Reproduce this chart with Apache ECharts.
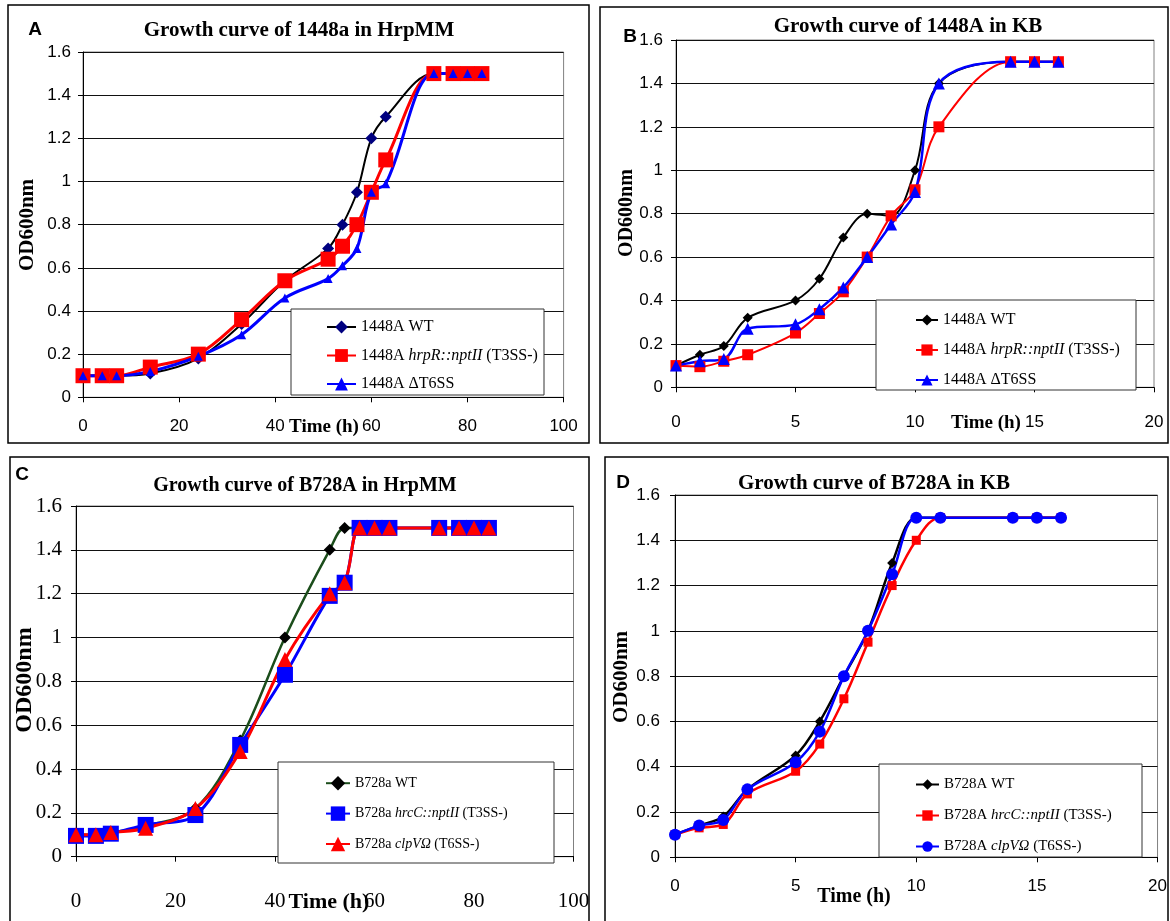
<!DOCTYPE html>
<html><head><meta charset="utf-8">
<script src="https://cdn.jsdelivr.net/npm/echarts@6/dist/echarts.min.js"></script>
<style>html,body{margin:0;padding:0;background:#fff}#c{width:1170px;height:921px}</style>
</head><body><div id="c"></div>
<script>
// ---------- data ----------
const hoursA = [0,4,7,14,24,33,42,51,54,57,60,63,73,77,80,83];
const odA_WT   = [0.10,0.10,0.10,0.11,0.18,0.34,0.54,0.69,0.80,0.95,1.20,1.30,1.50,1.50,1.50,1.50];
const odA_hrpR = [0.10,0.10,0.10,0.14,0.20,0.36,0.54,0.64,0.70,0.80,0.95,1.10,1.50,1.50,1.50,1.50];
const odA_T6SS = [0.10,0.10,0.10,0.12,0.19,0.29,0.46,0.55,0.61,0.69,0.95,0.99,1.50,1.50,1.50,1.50];

const hoursB = [0,1,2,3,5,6,7,8,9,10,11,14,15,16];
const odB_WT   = [0.10,0.15,0.19,0.32,0.40,0.50,0.69,0.80,0.79,1.00,1.40,1.50,1.50,1.50];
const odB_hrpR = [0.10,0.095,0.12,0.15,0.25,0.34,0.44,0.60,0.79,0.91,1.20,1.50,1.50,1.50];
const odB_T6SS = [0.10,0.12,0.13,0.27,0.29,0.36,0.46,0.60,0.75,0.90,1.40,1.50,1.50,1.50];

const hoursC = [0,4,7,14,24,33,42,51,54,57,60,63,73,77,80,83];
const odC_WT   = [0.10,0.10,0.11,0.14,0.22,0.53,1.00,1.40,1.50,1.50,1.50,1.50,1.50,1.50,1.50,1.50];
const odC_hrcC = [0.095,0.095,0.105,0.145,0.19,0.51,0.83,1.19,1.25,1.50,1.50,1.50,1.50,1.50,1.50,1.50];
const odC_clpV = [0.10,0.10,0.11,0.13,0.22,0.48,0.90,1.20,1.25,1.50,1.50,1.50,1.50,1.50,1.50,1.50];

const hoursD = [0,1,2,3,5,6,7,8,9,10,11,14,15,16];
const odD_WT   = [0.10,0.14,0.18,0.30,0.45,0.60,0.80,1.00,1.30,1.50,1.50,1.50,1.50,1.50];
const odD_hrcC = [0.10,0.13,0.145,0.28,0.38,0.50,0.70,0.95,1.20,1.40,1.50,1.50,1.50,1.50];
const odD_clpV = [0.10,0.14,0.165,0.30,0.42,0.555,0.80,1.00,1.25,1.50,1.50,1.50,1.50,1.50];

const yTicks = [0,0.2,0.4,0.6,0.8,1,1.2,1.4,1.6];

const titles = ['Growth curve of 1448a in HrpMM','Growth curve of 1448A in KB','Growth curve of B728A in HrpMM','Growth curve of B728A in KB'];
const legendLabels = {
  'A|WT':'1448A WT', 'A|hrpR':'1448A {i|hrpR::nptII} (T3SS-)', 'A|T6SS':'1448A ΔT6SS',
  'B|WT':'1448A WT', 'B|hrpR':'1448A {i|hrpR::nptII} (T3SS-)', 'B|T6SS':'1448A ΔT6SS',
  'C|WT':'B728a WT', 'C|hrcC':'B728a {i|hrcC::nptII} (T3SS-)', 'C|clpV':'B728a {i|clpVΩ} (T6SS-)',
  'D|WT':'B728A WT', 'D|hrcC':'B728A {i|hrcC::nptII} (T3SS-)', 'D|clpV':'B728A {i|clpVΩ} (T6SS-)'
};

// ---------- helpers ----------
const SERIF = '"Liberation Serif","Times New Roman",serif';
const SANS = '"Liberation Sans",Arial,sans-serif';

function mk(name, gi, hours, vals, lineColor, symbol, symSize, lw, symColor){
  return {
    type:'line', name, xAxisIndex:gi, yAxisIndex:gi,
    data: hours.map((h,i)=>[h, vals[i]]),
    smooth:0.35, symbol, symbolSize:symSize, showAllSymbol:true,
    color: lineColor,
    lineStyle:{color:lineColor, width:lw},
    itemStyle:{color:symColor||lineColor, borderWidth:0},
    emphasis:{disabled:true}, animation:false
  };
}
function xAx(gi, max, interval, ff, fs, margin){
  return {type:'value', gridIndex:gi, min:0, max, interval,
    axisLine:{show:true, onZero:false, lineStyle:{color:'#000', width:1}},
    axisTick:{show:true, length:5, lineStyle:{color:'#000'}},
    splitLine:{show:false},
    axisLabel:{color:'#000', fontFamily:ff, fontSize:fs, margin}};
}
function yAx(gi, ff, fs, margin){
  return {type:'value', gridIndex:gi, min:yTicks[0], max:yTicks[yTicks.length-1], interval:0.2,
    axisLine:{show:true, onZero:false, lineStyle:{color:'#000', width:1}},
    axisTick:{show:true, length:5, lineStyle:{color:'#000'}},
    splitLine:{show:true, lineStyle:{color:'#111', width:1}},
    axisLabel:{color:'#000', fontFamily:ff, fontSize:fs, margin}};
}
function leg(names, left, top, fs, itemW, itemH, gap){
  return {orient:'vertical', left, top, itemWidth:itemW, itemHeight:itemH, itemGap:gap,
    data:names, selectedMode:false, z:6,
    formatter: n => legendLabels[n],
    textStyle:{color:'#000', fontFamily:SERIF, fontSize:fs, lineHeight:fs,
      rich:{i:{fontStyle:'italic', fontFamily:SERIF, fontSize:fs, color:'#000', lineHeight:fs}}}};
}
function txt(x, y, text, font, rot){
  return {type:'text', x, y, rotation: rot||0, z:7,
    style:{text, font, fill:'#000', textAlign:'center', textVerticalAlign:'middle', align:'center', verticalAlign:'middle'}};
}
function rect(x, y, w, h, fill, stroke, lw, z){
  return {type:'rect', shape:{x, y, width:w, height:h}, z,
    style:{fill, stroke, lineWidth:lw}};
}

const grids = [
  {left:83, top:52, width:480.6, height:345.3},
  {left:676, top:40, width:478, height:347.3},
  {left:76, top:506, width:497.5, height:350.7},
  {left:675, top:495, width:486, height:362.3}
].map(g=>Object.assign(g,{show:true, borderColor:'#808080', borderWidth:1}));

const option = {
  backgroundColor:'#fff',
  animation:false,
  grid: grids,
  xAxis:[
    xAx(0,100,20,SANS,17,21),
    xAx(1,20,5,SANS,17,27),
    xAx(2,100,20,SERIF,21,34),
    xAx(3,20,5,SANS,17,21)
  ],
  yAxis:[
    yAx(0,SANS,17,12),
    yAx(1,SANS,17,13),
    yAx(2,SERIF,21,14),
    yAx(3,SANS,17,15)
  ],
  legend:[
    leg(['A|WT','A|hrpR','A|T6SS'], 321, 314, 16, 29, 16, 12.5),
    leg(['B|WT','B|hrpR','B|T6SS'], 910, 307, 16, 22, 14, 14),
    leg(['C|WT','C|hrcC','C|clpV'], 320, 771, 14, 24, 18, 16),
    leg(['D|WT','D|hrcC','D|clpV'], 910, 772, 15, 23, 13, 16)
  ],
  series:[
    mk('A|WT',0,hoursA,odA_WT,'#000000','diamond',12,2,'#000080'),
    mk('A|hrpR',0,hoursA,odA_hrpR,'#ff0000','rect',15,3),
    mk('A|T6SS',0,hoursA,odA_T6SS,'#0000ff','triangle',9,3),

    mk('B|WT',1,hoursB,odB_WT,'#000000','diamond',10,2),
    mk('B|hrpR',1,hoursB,odB_hrpR,'#ff0000','rect',11,2),
    mk('B|T6SS',1,hoursB,odB_T6SS,'#0000ff','triangle',12,2.5),

    mk('C|WT',2,hoursC,odC_WT,'#1b4d1b','diamond',12,2.5,'#000000'),
    mk('C|hrcC',2,hoursC,odC_hrcC,'#0000ff','rect',16,3),
    mk('C|clpV',2,hoursC,odC_clpV,'#ff0000','triangle',15,3),

    mk('D|WT',3,hoursD,odD_WT,'#000000','diamond',10,2.5),
    mk('D|hrcC',3,hoursD,odD_hrcC,'#ff0000','rect',9,2.5),
    mk('D|clpV',3,hoursD,odD_clpV,'#0000ff','circle',12,2.5)
  ],
  graphic:{elements:[
    // panel frames
    rect(8,5,581,438,'none','#000',1.5,8),
    rect(600,7,568,436,'none','#000',1.5,8),
    rect(10,457,579,470,'none','#000',1.5,8),
    rect(605,457,563,470,'none','#000',1.5,8),
    // legend boxes
    rect(291,309,253,86,'#fff','#333',1,1),
    rect(876,300,260,90,'#fff','#333',1,1),
    rect(278,762,276,101,'#fff','#333',1,1),
    rect(879,764,263,93,'#fff','#333',1,1),
    // panel letters
    txt(35,30,'A','bold 19px '+SANS),
    txt(630,37,'B','bold 19px '+SANS),
    txt(22,475,'C','bold 19px '+SANS),
    txt(623,483,'D','bold 19px '+SANS),
    // titles
    txt(299,31,titles[0],'bold 21px '+SERIF),
    txt(908,27,titles[1],'bold 21px '+SERIF),
    txt(305,486,titles[2],'bold 20px '+SERIF),
    txt(874,484,titles[3],'bold 21px '+SERIF),
    // y axis names
    txt(28,225,'OD600nm','bold 21px '+SERIF,Math.PI/2),
    txt(627,213,'OD600nm','bold 20px '+SERIF,Math.PI/2),
    txt(25,680,'OD600nm','bold 24px '+SERIF,Math.PI/2),
    txt(622,677,'OD600nm','bold 21px '+SERIF,Math.PI/2),
    // x axis names
    txt(324,427,'Time (h)','bold 19px '+SERIF),
    txt(986,423,'Time (h)','bold 19px '+SERIF),
    txt(329,902,'Time (h)','bold 22px '+SERIF),
    txt(854,897,'Time (h)','bold 20px '+SERIF)
  ]}
};
const chart = echarts.init(document.getElementById('c'), null, {renderer:'canvas'});
chart.setOption(option);
</script>
</body></html>
